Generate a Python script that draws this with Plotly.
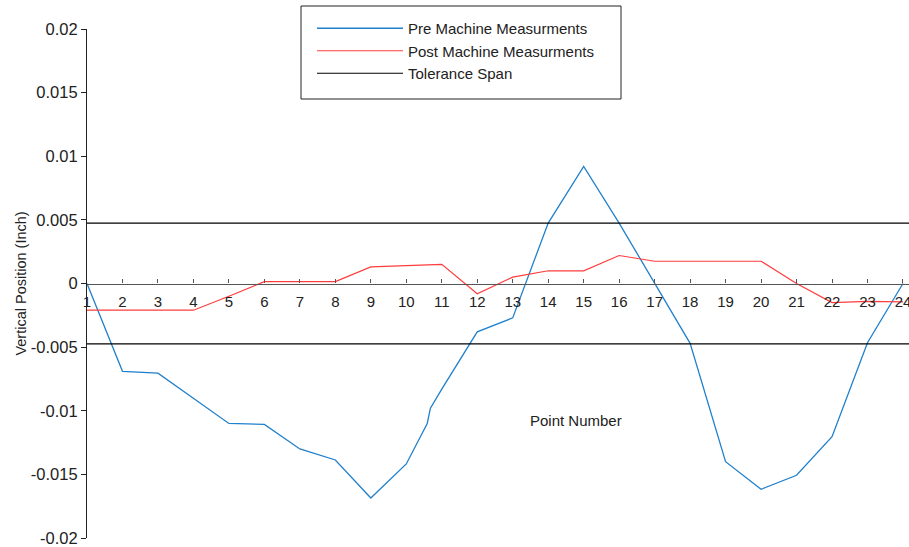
import plotly.graph_objects as go

# ---- data ----
point_numbers = list(range(1, 25))
point_labels = [str(p) for p in point_numbers]

pre_x = [1, 2, 3, 4, 5, 6, 7, 8, 9, 10, 10.59, 10.68, 11, 12, 13, 14, 15, 16,
         17, 18, 19, 20, 21, 22, 23, 24]
pre_values = [0.0, -0.0069, -0.00705, -0.0090, -0.0110, -0.01107, -0.0130, -0.01387,
              -0.01686, -0.01418, -0.0110, -0.0098, -0.0083, -0.0038, -0.0027,
              0.00475, 0.0092, 0.00475, 0.0, -0.0047, -0.0140, -0.01617, -0.01507,
              -0.01204, -0.00465, 0.0]

post_values = [-0.0021, -0.0021, -0.0021, -0.0021, -0.0010, 0.00015, 0.00015, 0.00015,
               0.0013, 0.0014, 0.0015, -0.0008, 0.0005, 0.0010, 0.0010, 0.0022,
               0.00175, 0.00175, 0.00175, 0.00175, 0.0, -0.0015, -0.0014, -0.00145]

tolerance = 0.00475
x_range = [1, 24.17]
y_range = [-0.02, 0.02]

y_tick_values = [-0.02, -0.015, -0.01, -0.005, 0, 0.005, 0.01, 0.015, 0.02]
y_tick_labels = ["-0.02", "-0.015", "-0.01", "-0.005", "0", "0.005", "0.01", "0.015", "0.02"]

FONT = "Liberation Sans, Arial, sans-serif"

fig = go.Figure()
fig.add_trace(go.Scatter(x=pre_x, y=pre_values, mode="lines",
                         name="Pre Machine Measurments",
                         line=dict(color="#2080cc", width=1.3)))
fig.add_trace(go.Scatter(x=point_numbers, y=post_values, mode="lines",
                         name="Post Machine Measurments",
                         line=dict(color="#ff3c3c", width=1.2)))
fig.add_trace(go.Scatter(x=[x_range[0], x_range[1], None, x_range[0], x_range[1]],
                         y=[tolerance, tolerance, None, -tolerance, -tolerance],
                         mode="lines", name="Tolerance Span",
                         line=dict(color="#000000", width=1.2)))

L, T, W, H = 87, 29, 822, 509

fig.update_layout(
    width=909, height=547,
    margin=dict(l=L, r=0, t=T, b=9, autoexpand=False),
    paper_bgcolor="white", plot_bgcolor="white",
    font=dict(family=FONT, size=15, color="#222222"),
    showlegend=True,
    legend=dict(x=(312 - L) / W, y=(T + H - 12) / H, xanchor="left", yanchor="top",
                bgcolor="rgba(0,0,0,0)", borderwidth=0, itemwidth=86,
                font=dict(family=FONT, size=15, color="#222222")),
    xaxis=dict(range=x_range, tickvals=point_numbers, ticktext=point_labels,
               anchor="free", position=0.5, showline=True, linecolor="#555555",
               linewidth=1.2, ticks="inside", ticklen=4, tickcolor="#555555",
               showgrid=False, zeroline=False, automargin=False,
               ticklabelstandoff=4, ticklabeloverflow="allow",
               tickfont=dict(family=FONT, size=15, color="#222222")),
    yaxis=dict(range=y_range, tickvals=y_tick_values, ticktext=y_tick_labels,
               showline=True, linecolor="#222222", linewidth=1.2, ticks="outside",
               ticklen=5, tickcolor="#222222", showgrid=False, zeroline=False,
               automargin=False, ticklabelstandoff=0,
               title=dict(text="Vertical Position (Inch)", font=dict(family=FONT, size=14.5),
                          standoff=0),
               tickfont=dict(family=FONT, size=16.5, color="#222222")),
    shapes=[dict(type="rect", xref="paper", yref="paper",
                 x0=(301 - L) / W, x1=(621 - L) / W,
                 y0=(T + H - 99) / H, y1=(T + H - 6) / H,
                 line=dict(color="#222222", width=1), fillcolor="rgba(0,0,0,0)")],
    annotations=[dict(text="Point Number", xref="paper", yref="paper",
                      x=(576 - L) / W, y=(T + H - 420) / H, showarrow=False,
                      xanchor="center", yanchor="middle",
                      font=dict(family=FONT, size=15, color="#222222"))],
)

fig.write_html("out.html", config={"displayModeBar": False},
               post_script="document.body.style.margin='0';document.body.style.overflow='hidden';")
